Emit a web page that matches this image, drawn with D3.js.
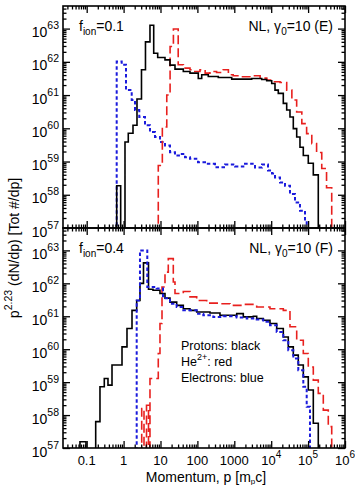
<!DOCTYPE html>
<html><head><meta charset="utf-8">
<script src="https://cdn.jsdelivr.net/npm/d3@7"></script>
<style>
body{margin:0;background:#fff}
svg{display:block}
text{font-family:"Liberation Sans",Arial,Helvetica,sans-serif;fill:#000}
</style>
</head><body><div id="chart"></div>
<script>
// ---------- DATA (log10 of momentum bin edges, log10 of p^2.23 dN/dp per bin) ----------
// Panel E (top): f_ion = 0.1
const E_protons_logP = [-0.187,-0.079,0.038,0.127,0.255,0.363,0.485,0.593,0.715,0.816,0.924,1.122,1.257,1.393,1.618,1.799,2.024,2.117,2.295,2.566,2.93,3.472,3.743,3.878,4.014,4.103,4.192,4.328,4.42,4.509,4.599,4.691,4.78,4.87,5.005,5.141,5.276];
const E_protons_logN = [58.27,55,59.59,59.85,60.09,60.88,61.76,62.6,63.1,62.26,62.13,62.06,61.9,61.78,61.71,61.66,61.5,61.61,61.56,61.53,61.48,61.5,61.47,61.43,61.35,61.15,61.05,60.75,60.55,60.34,59.99,59.74,59.43,59.18,58.95,58.6];
const E_helium_logP = [0.94,1.05,1.17,1.26,1.35,1.48,1.62,1.80,1.93,2.07,2.21,2.34,2.52,2.70,2.84,2.97,3.20,3.47,3.70,3.88,4.06,4.24,4.42,4.56,4.69,4.83,4.96,5.10,5.23,5.37,5.50,5.64];
const E_helium_logN = [58.88,60.04,61.0,62.46,62.99,61.91,61.81,61.76,61.71,61.76,61.66,61.71,61.68,61.76,61.61,61.58,61.55,61.58,61.51,61.45,61.40,61.38,61.15,60.85,60.49,60.14,59.84,59.54,59.27,58.79,58.21];
const E_electrons_logP = [-0.187,-0.051,0.065,0.22,0.309,0.425,0.58,0.715,0.851,0.986,1.122,1.257,1.393,1.528,1.664,1.799,2.016,2.206,2.477,2.748,3.019,3.29,3.561,3.751,3.913,4.022,4.103,4.238,4.374,4.509,4.645,4.78,4.916,4.962];
const E_electrons_logN = [62.01,61.91,61.15,60.85,60.55,60.34,60.09,59.89,59.74,59.59,59.48,59.28,59.18,59.23,59.13,59.08,58.98,58.93,58.83,58.91,58.85,58.93,58.82,58.91,58.73,58.64,58.52,58.37,58.27,58.02,57.77,57.52,57.21];

// Panel F (bottom): f_ion = 0.4
const F_protons_logP = [-1.182,-1.019,-0.756,-0.64,-0.523,-0.423,-0.314,-0.179,-0.043,0.092,0.228,0.355,0.444,0.539,0.675,0.797,0.986,1.122,1.257,1.439,1.618,1.799,1.981,2.341,2.612,3.065,3.244,3.515,3.607,3.786,3.967,4.149,4.328,4.463,4.599,4.734,4.87,5.005,5.141,5.276];
const F_protons_logN = [57.19,55,57.8,58.86,59.11,58.91,59.52,59.52,60.07,60.63,61.18,61.48,62.0,62.62,61.82,61.79,61.69,61.55,61.43,61.33,61.23,61.18,61.13,61.1,61.03,61.08,60.98,61.0,60.93,60.88,60.78,60.63,60.37,60.07,59.82,59.52,59.16,58.76,57.75];
const F_helium_logP = [0.491,0.553,0.621,0.675,0.715,0.94,0.986,1.041,1.122,1.211,1.347,1.393,1.618,1.799,1.981,2.252,2.612,2.883,3.244,3.607,3.967,4.328,4.509,4.691,4.87,5.005,5.141,5.276,5.412,5.547,5.64];
const F_helium_logN = [58.2,55,58.3,55,59.11,59.87,60.78,61.89,62.34,62.75,62.04,61.69,61.75,61.59,61.48,61.40,61.38,61.33,61.36,61.28,61.23,61.18,60.68,60.27,59.87,59.46,59.06,58.66,58.15,57.65];
const F_electrons_logP = [0.355,0.444,0.642,0.897,1.068,1.257,1.439,1.618,1.981,2.16,2.431,2.702,3.065,3.336,3.607,3.786,3.967,4.149,4.328,4.463,4.599,4.734,4.87,4.962,5.051];
const F_electrons_logN = [61.48,63.0,61.89,61.84,61.55,61.38,61.28,61.18,61.08,61.03,60.98,61.0,60.96,60.93,60.9,60.83,60.73,60.52,60.27,59.97,59.72,59.36,58.86,58.25];

// Axis ticks
const xTickExps = [-1,0,1,2,3,4,5,6];
const xTickLabels = ["0.1","1","10","100","1000","10^4","10^5","10^6"];
const yTickExps = [57,58,59,60,61,62,63];

// ---------- LAYOUT ----------
const W=355, H=485, L=63, R=345;
const svg = d3.select("#chart").append("svg").attr("width",W).attr("height",H);

const x = d3.scaleLog().domain([Math.pow(10,-1.642), 1e6]).range([L,R]);

const panels = [
  {top:6, bottom:228, id:"E", ion:"0.1", tag:"(E)",
   series:[{lp:E_electrons_logP, ln:E_electrons_logN, color:"#1a1adc", dash:"3.5,2.5", w:2},
           {lp:E_helium_logP, ln:E_helium_logN, color:"#e8201e", dash:"9,4", w:1.6},
           {lp:E_protons_logP, ln:E_protons_logN, color:"#000", dash:null, w:1.6}]},
  {top:228, bottom:448, id:"F", ion:"0.4", tag:"(F)",
   series:[{lp:F_helium_logP, ln:F_helium_logN, color:"#e8201e", dash:"9,4", w:1.6},
           {lp:F_protons_logP, ln:F_protons_logN, color:"#000", dash:null, w:1.6},
           {lp:F_electrons_logP, ln:F_electrons_logN, color:"#1a1adc", dash:"3.5,2.5", w:2}]}
];

const majorX = xTickExps.map(e=>Math.pow(10,e));
const minorX = [];
for (let e=-2;e<6;e++) for (let k=2;k<10;k++){const v=k*Math.pow(10,e); if(v>x.domain()[0]&&v<1e6) minorX.push(v);}
const majorY = yTickExps.map(e=>Math.pow(10,e));
const minorY = [];
for (let e=57;e<64;e++) for (let k=2;k<10;k++){const v=k*Math.pow(10,e); if(v<Math.pow(10,63.68)) minorY.push(v);}

panels.forEach((p,i)=>{
  const y = d3.scaleLog().domain([1e57, Math.pow(10,63.68)]).range([p.bottom,p.top]);
  const g = svg.append("g");
  const clipId = "clip"+p.id;
  svg.append("clipPath").attr("id",clipId).append("rect")
     .attr("x",L).attr("y",p.top).attr("width",R-L).attr("height",p.bottom-p.top);

  // step histograms
  const line = d3.line().x(d=>x(d[0])).y(d=>y(d[1])).curve(d3.curveStepAfter);
  const plot = g.append("g").attr("clip-path",`url(#${clipId})`);
  p.series.forEach(s=>{
    const pts=[[Math.pow(10,s.lp[0]),1e54]];
    s.ln.forEach((v,j)=>pts.push([Math.pow(10,s.lp[j]),Math.pow(10,v)]));
    const n=s.lp.length-1;
    pts.push([Math.pow(10,s.lp[n]),Math.pow(10,s.ln[n-1])]);
    pts.push([Math.pow(10,s.lp[n]),1e54]);
    plot.append("path").attr("d",line(pts)).attr("fill","none")
      .attr("stroke",s.color).attr("stroke-width",s.w)
      .attr("stroke-dasharray",s.dash).attr("stroke-linejoin","miter");
  });

  // ticks (inward on all four sides)
  const addAxis=(axisFn,scale,vals,size,tr)=>{
    const a=g.append("g").attr("transform",tr)
      .call(axisFn(scale).tickValues(vals).tickSize(size).tickFormat(""));
    a.select(".domain").remove();
    a.selectAll("line").attr("stroke","#000").attr("stroke-width",1.3);
  };
  addAxis(d3.axisLeft,y,majorY,-7,`translate(${L},0)`);
  addAxis(d3.axisLeft,y,minorY,-3.5,`translate(${L},0)`);
  addAxis(d3.axisRight,y,majorY,-7,`translate(${R},0)`);
  addAxis(d3.axisRight,y,minorY,-3.5,`translate(${R},0)`);
  addAxis(d3.axisTop,x,majorX,-7,`translate(0,${p.top})`);
  addAxis(d3.axisTop,x,minorX,-3.5,`translate(0,${p.top})`);
  addAxis(d3.axisBottom,x,majorX,-7,`translate(0,${p.bottom})`);
  addAxis(d3.axisBottom,x,minorX,-3.5,`translate(0,${p.bottom})`);

  g.append("rect").attr("x",L).attr("y",p.top).attr("width",R-L).attr("height",p.bottom-p.top)
    .attr("fill","none").attr("stroke","#000").attr("stroke-width",1.6);

  // y tick labels
  majorY.forEach((v,j)=>{
    const t=g.append("text").attr("x",59).attr("y",y(v)+8.5).attr("text-anchor","end").style("font-size","14px");
    t.append("tspan").text("10");
    t.append("tspan").attr("dy",-8).style("font-size","10.5px").text(String(yTickExps[j]));
  });

  // panel labels
  const f=g.append("text").attr("x",79).attr("y",p.top+25).style("font-size","14px");
  f.append("tspan").text("f");
  f.append("tspan").attr("dy",4).style("font-size","10px").text("ion");
  f.append("tspan").attr("dy",-4).text("="+p.ion);
  const nl=g.append("text").attr("x",333).attr("y",p.top+25).attr("text-anchor","end").style("font-size","14px");
  nl.append("tspan").text("NL, \u03B3");
  nl.append("tspan").attr("dy",4).style("font-size","10px").text("0");
  nl.append("tspan").attr("dy",-4).text("=10 "+p.tag);
});

// x tick labels
xTickLabels.forEach((lab,j)=>{
  const t=svg.append("text").attr("x",x(majorX[j])).attr("y",465).attr("text-anchor","middle").style("font-size","13px");
  if(lab.includes("^")){
    const [b,e]=lab.split("^");
    t.append("tspan").text(b);
    t.append("tspan").attr("dy",-7).style("font-size","10px").text(e);
  } else t.text(lab);
});

// x title
const xt=svg.append("text").attr("x",206).attr("y",482).attr("text-anchor","middle").style("font-size","14px");
xt.append("tspan").text("Momentum, p [m");
xt.append("tspan").attr("dy",2).style("font-size","8px").text("p");
xt.append("tspan").attr("dy",-2).text("c]");

// y title
const yt=svg.append("text").attr("transform","translate(19,248) rotate(-90)").attr("text-anchor","middle").style("font-size","14px");
yt.append("tspan").text("p");
yt.append("tspan").attr("dy",-7).style("font-size","10.5px").text("2.23");
yt.append("tspan").attr("dy",7).text(" (dN/dp) [Tot #/dp]");

// legend text
const leg=[["Protons: black"],["He","2+",": red"],["Electrons: blue"]];
leg.forEach((l,j)=>{
  const t=svg.append("text").attr("x",181).attr("y",350+j*16).style("font-size","12.5px");
  t.append("tspan").text(l[0]);
  if(l.length>1){
    t.append("tspan").attr("dy",-6).style("font-size","9px").text(l[1]);
    t.append("tspan").attr("dy",6).text(l[2]);
  }
});
</script>
</body></html>
